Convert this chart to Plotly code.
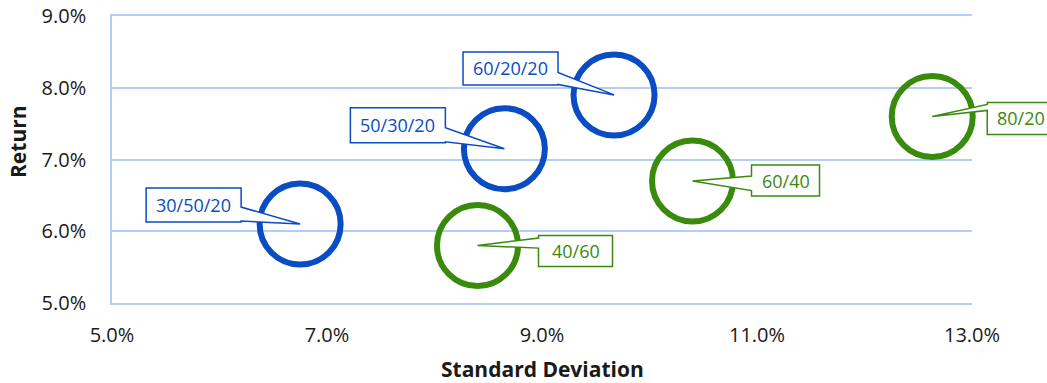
import plotly.graph_objects as go

# Portfolio mixes: risk (standard deviation, %) vs. return (%)
mix3_labels = ["30/50/20", "50/30/20", "60/20/20"]
mix3_std = [6.75, 8.65, 9.67]
mix3_ret = [6.1, 7.15, 7.9]

mix2_labels = ["40/60", "60/40", "80/20"]
mix2_std = [8.40, 10.40, 12.63]
mix2_ret = [5.8, 6.7, 7.6]

x_ticks = [5, 7, 9, 11, 13]
y_ticks = [5, 6, 7, 8, 9]
x_range = [5, 13]
y_range = [5, 9]

BLUE = "#0a4cc4"
GREEN = "#3a8a0e"
GRID = "#b3cdf7"
FONT = "Open Sans"

# Callout geometry in pixels: box centre offset (dx right, dy down), width, height,
# wedge base offsets from box centre (down positive), side of the box the wedge leaves.
mix3_callouts = [
    dict(dx=-106.5, dy=-19.0, w=95, h=34, b1=2, b2=16, side="right"),
    dict(dx=-106.5, dy=-23.5, w=95, h=35, b1=2.5, b2=16.5, side="right"),
    dict(dx=-103.5, dy=-26.5, w=95, h=33, b1=4, b2=16, side="right"),
]
mix2_callouts = [
    dict(dx=98.0, dy=5.5, w=74, h=31, b1=-13, b2=-3, side="left"),
    dict(dx=93.0, dy=-0.5, w=68, h=31, b1=-4.5, b2=10, side="left"),
    dict(dx=89.0, dy=2.0, w=68, h=32, b1=-14, b2=-8, side="left"),
]


def callout_path(c):
    L, R = c["dx"] - c["w"] / 2, c["dx"] + c["w"] / 2
    T, B = c["dy"] - c["h"] / 2, c["dy"] + c["h"] / 2
    y1, y2 = c["dy"] + c["b1"], c["dy"] + c["b2"]
    if c["side"] == "right":
        pts = [(L, T), (R, T), (R, y1), (0, 0), (R, y2), (R, B), (L, B)]
    else:
        pts = [(L, T), (R, T), (R, B), (L, B), (L, y2), (0, 0), (L, y1)]
    # shape pixel coordinates run upward, screen offsets run downward
    return "M " + " L ".join(f"{x:.1f},{-y:.1f}" for x, y in pts) + " Z"


def frac(v, rng):
    return (v - rng[0]) / (rng[1] - rng[0])


fig = go.Figure()

for xs, ys, color in [(mix3_std, mix3_ret, BLUE), (mix2_std, mix2_ret, GREEN)]:
    fig.add_trace(go.Scatter(
        x=xs, y=ys, mode="markers", cliponaxis=False, hoverinfo="skip",
        marker=dict(symbol="circle-open", size=81, color=color,
                    line=dict(width=6, color=color)),
        showlegend=False,
    ))

shapes = []
annotations = []
for labels, xs, ys, callouts, color in [
    (mix3_labels, mix3_std, mix3_ret, mix3_callouts, BLUE),
    (mix2_labels, mix2_std, mix2_ret, mix2_callouts, GREEN),
]:
    for lab, xv, yv, c in zip(labels, xs, ys, callouts):
        shapes.append(dict(
            type="path", xref="paper", yref="paper",
            xsizemode="pixel", ysizemode="pixel",
            xanchor=frac(xv, x_range), yanchor=frac(yv, y_range),
            path=callout_path(c), fillcolor="white",
            line=dict(color=color, width=1.5), layer="above",
        ))
        annotations.append(dict(
            x=xv, y=yv, xref="x", yref="y", text=lab, showarrow=False,
            xanchor="center", yanchor="middle",
            xshift=c["dx"], yshift=-c["dy"],
            font=dict(family=FONT, size=18, color=color),
        ))

annotations.append(dict(
    text="<b>Return</b>", textangle=-90, xref="paper", yref="paper",
    x=0, y=0.561, xanchor="center", yanchor="middle", xshift=-94,
    showarrow=False, font=dict(family=FONT, size=21, color="#1a1a1a"),
))
annotations.append(dict(
    text="<b>Standard Deviation</b>", xref="paper", yref="paper",
    x=0.5, y=0, xanchor="center", yanchor="middle", yshift=-66,
    showarrow=False, font=dict(family=FONT, size=21, color="#1a1a1a"),
))

fig.update_layout(
    width=1047, height=383,
    margin=dict(l=112, r=75, t=16, b=80),
    paper_bgcolor="white", plot_bgcolor="white",
    font=dict(family=FONT, size=20, color="#1a1a1a"),
    shapes=shapes, annotations=annotations,
    xaxis=dict(
        range=x_range, tickvals=x_ticks, ticktext=[f"{v:.1f}%" for v in x_ticks],
        showgrid=False, zeroline=False, automargin=False,
        showline=True, mirror=True, linecolor=GRID, linewidth=1.5,
        ticks="", ticklabelstandoff=13,
    ),
    yaxis=dict(
        range=y_range, tickvals=y_ticks, ticktext=[f"{v:.1f}%" for v in y_ticks],
        showgrid=True, gridcolor=GRID, gridwidth=1.5, zeroline=False, automargin=False,
        showline=True, linecolor=GRID, linewidth=1.5,
        ticks="", ticklabelstandoff=20,
    ),
)

fig.write_html("out.html")
